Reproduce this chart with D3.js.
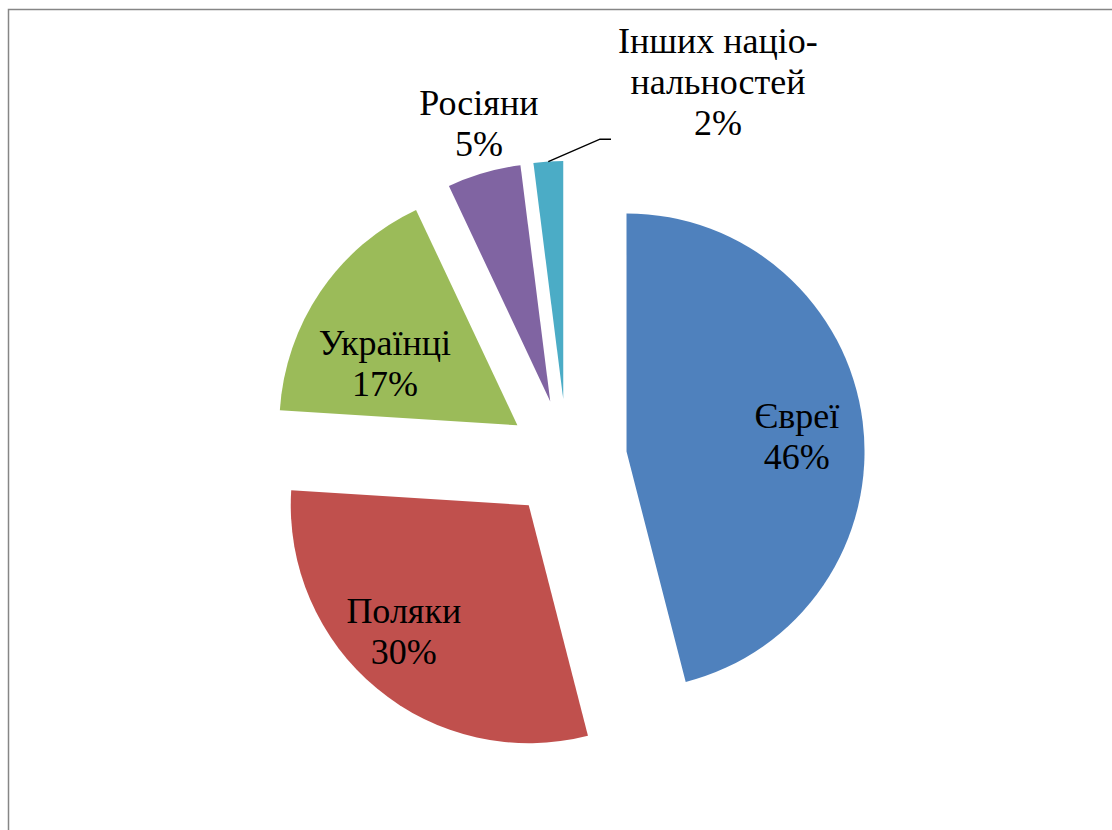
<!DOCTYPE html>
<html>
<head>
<meta charset="UTF-8">
<script src="https://d3js.org/d3.v7.min.js"></script>
</head>
<body style="margin:0; font-family: 'Liberation Serif', serif;">
<svg id="chart" width="1112" height="830" font-family="Liberation Serif"></svg>
<script>
    // data
    const categories = ["Євреї", "Поляки", "Українці", "Росіяни", "Інших націо-|нальностей"];
    const values = [46, 30, 17, 5, 2];
    const colors = ["#4F81BD", "#C0504D", "#9BBB59", "#8064A2", "#4BACC6"];

    // layout (label position relative to each exploded slice: [angle deg, radius])
    const labelAt = [[82, 172], [226.6, 172], [298, 150], [346, 295], [24.1, 379]];
    const cx = 567, cy = 459, radius = 238, explode = 60, lineH = 41;

    const svg = d3.select("#chart");
    const W = +svg.attr("width"), H = +svg.attr("height");

    // chart area frame (right/bottom edges are cut off)
    svg.append("rect")
      .attr("x", 8.5).attr("y", 9.5)
      .attr("width", W + 20).attr("height", H + 20)
      .attr("fill", "none")
      .attr("stroke", "#868686")
      .attr("stroke-width", 1.5);

    const pie = d3.pie().sort(null).value(d => d.v);
    const arcs = pie(values.map((v, i) => ({ v: v, name: categories[i], color: colors[i] })));
    const arc = d3.arc().innerRadius(0).outerRadius(radius);

    const polar = (deg, r) => {
      const a = deg * Math.PI / 180;
      return [Math.sin(a) * r, -Math.cos(a) * r];
    };

    const labels = svg.append("g")
      .attr("font-family", "Liberation Serif")
      .attr("font-size", 36)
      .attr("text-anchor", "middle");

    arcs.forEach((d, i) => {
      const mid = (d.startAngle + d.endAngle) / 2 * 180 / Math.PI;
      const off = polar(mid, explode);
      const ox = cx + off[0], oy = cy + off[1];
      svg.insert("path", "g")
        .attr("transform", "translate(" + ox + "," + oy + ")")
        .attr("d", arc(d))
        .attr("fill", d.data.color);

      const p = polar(labelAt[i][0], labelAt[i][1]);
      const lines = d.data.name.split("|").concat([d.data.v + "%"]);
      lines.forEach((s, k) => {
        labels.append("text")
          .attr("x", ox + p[0])
          .attr("y", oy + p[1] + k * lineH)
          .text(s);
      });

      // leader line for the smallest slice
      if (i === values.length - 1) {
        const o = polar(mid, radius);
        const end = [p[0] - 107, p[1] + 86];
        svg.append("path")
          .attr("transform", "translate(" + ox + "," + oy + ")")
          .attr("d", d3.line()([o, [end[0] - 11, end[1]], end]))
          .attr("fill", "none")
          .attr("stroke", "#000")
          .attr("stroke-width", 1.5);
      }
    });
</script>
</body>
</html>
